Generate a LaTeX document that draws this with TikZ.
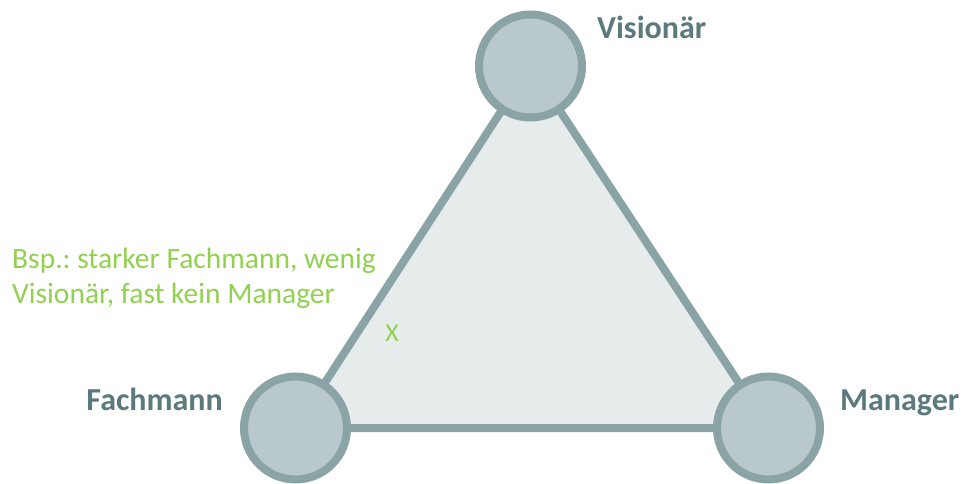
\documentclass[tikz,border=0pt]{standalone}
\usepackage{fontspec}
\setmainfont{Carlito}
\usepackage{xcolor}
\definecolor{rim}{HTML}{8AA3A5}
\definecolor{disc}{HTML}{B8C8CB}
\definecolor{face}{HTML}{E6ECEC}
\definecolor{rolename}{HTML}{5A7A7D}
\definecolor{hint}{HTML}{92D050}
\frenchspacing
\tikzset{
  role/.style={circle,draw=rim,fill=disc,line width=8pt,minimum size=103pt,inner sep=0pt},
  rolelabel/.style={inner sep=0pt,text=rolename,font=\fontsize{32}{38}\selectfont\bfseries},
  hintlabel/.style={inner sep=0pt,text=hint,font=\fontsize{29.5}{35}\selectfont}
}
\begin{document}
\begin{tikzpicture}[x=1pt,y=-1pt]
        \useasboundingbox (0,0) rectangle (967,484);
        \coordinate (v) at (530.5,66);
        \coordinate (f) at (295.5,428);
        \coordinate (m) at (768.5,428);
        \filldraw[draw=rim,fill=face,line width=8pt] (v) -- (f) -- (m) -- cycle;
        \node[role] (vis) at (v) {};
        \node[role] (fach) at (f) {};
        \node[role] (man) at (m) {};
        \node[rolelabel,anchor=base west] (vislabel) at (597,39) {Visionär};
        \node[rolelabel,anchor=base east] (fachlabel) at (223,410) {Fachmann};
        \node[rolelabel,anchor=base west] (manlabel) at (840,410) {Manager};
        \node[hintlabel,anchor=base west,align=left] (example) at (12,303.3)
          {Bsp.: starker Fachmann, wenig\\Visionär, fast kein Manager};
        \node[hintlabel,anchor=base,font=\fontsize{26}{30}\selectfont] (point) at (392,341) {X};
      \end{tikzpicture}
\end{document}
